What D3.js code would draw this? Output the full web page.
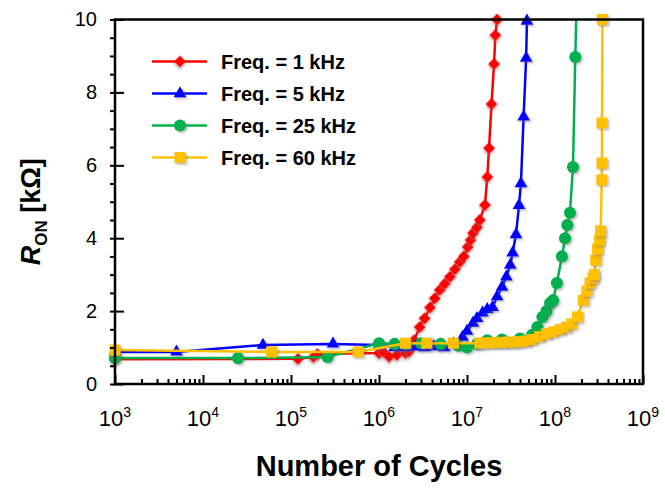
<!DOCTYPE html>
<html>
<head>
<meta charset="utf-8">
<script src="https://cdn.jsdelivr.net/npm/d3@7"></script>
<style>
  body { margin: 0; background: #fff; }
  text { font-family: "Liberation Sans", Arial, sans-serif; }
</style>
</head>
<body>
<div id="chart"></div>
<script>
// values
const cycles1k = [1e3, 1.2e5, 1.8e5, 2e5, 1e6, 1.1e6, 1.3e6, 1.6e6, 2e6, 2.2e6, 2.5e6, 2.9e6, 3.3e6, 3.8e6, 4.3e6, 4.9e6, 5.6e6, 6.4e6, 7.3e6, 8.3e6, 9.2e6, 1.02e7, 1.1e7, 1.17e7, 1.3e7, 1.4e7, 1.6e7, 1.7e7, 1.78e7, 1.9e7, 2.03e7, 2.1e7, 2.2e7];
const ron1k    = [0.68, 0.69, 0.74, 0.82, 0.85, 0.9, 0.75, 0.8, 0.85, 0.9, 1.2, 1.56, 1.8, 2.1, 2.35, 2.58, 2.75, 2.94, 3.15, 3.35, 3.5, 3.76, 3.95, 4.14, 4.3, 4.5, 4.91, 5.68, 6.47, 7.68, 8.78, 9.57, 10];

const cycles5k = [1e3, 5e3, 4.8e4, 3e5, 1e6, 1.5e6, 2e6, 2.6e6, 3.3e6, 4.2e6, 5.5e6, 7e6, 8.9e6, 1e7, 1.17e7, 1.3e7, 1.5e7, 1.7e7, 1.95e7, 2.2e7, 2.5e7, 2.8e7, 3.1e7, 3.3e7, 3.6e7, 3.9e7, 4.1e7, 4.4e7, 4.7e7, 4.8e7];
const ron5k    = [0.88, 0.88, 1.07, 1.1, 1.07, 1.0, 1.0, 1.02, 1.0, 1.03, 1.0, 1.1, 1.29, 1.45, 1.67, 1.8, 1.95, 2.05, 2.1, 2.4, 2.66, 2.94, 3.26, 3.6, 4.1, 4.9, 5.5, 7.33, 8.94, 9.96];

const cycles25k = [1e3, 2.5e4, 2.6e5, 1e6, 1.5e6, 2e6, 3e6, 5e6, 8e6, 1e7, 1.3e7, 1.7e7, 2.5e7, 4e7, 5.5e7, 6.3e7, 7.2e7, 8e7, 8.8e7, 9.5e7, 1.05e8, 1.2e8, 1.3e8, 1.38e8, 1.48e8, 1.6e8, 1.7e8, 1.78e8, 1.8e8];
const ron25k    = [0.71, 0.71, 0.74, 1.12, 1.1, 1.1, 1.12, 1.1, 1.05, 1.0, 1.1, 1.2, 1.22, 1.25, 1.35, 1.56, 1.84, 2.0, 2.22, 2.3, 2.77, 3.5, 4.0, 4.36, 4.7, 5.95, 8.97, 11];

const cycles60k = [1e3, 6e4, 5.8e5, 2e6, 3.5e6, 7e6, 1.4e7, 1.6e7, 1.9e7, 2.2e7, 2.6e7, 3e7, 3.5e7, 4e7, 4.7e7, 5.5e7, 6.7e7, 8e7, 9.5e7, 1.15e8, 1.35e8, 1.55e8, 1.8e8, 2.1e8, 2.3e8, 2.5e8, 2.7e8, 2.8e8, 2.9e8, 3.05e8, 3.2e8, 3.3e8, 3.4e8, 3.42e8, 3.42e8, 3.45e8, 3.5e8];
const ron60k    = [0.93, 0.88, 0.88, 1.12, 1.12, 1.12, 1.12, 1.13, 1.13, 1.14, 1.14, 1.15, 1.15, 1.16, 1.18, 1.22, 1.3, 1.38, 1.43, 1.5, 1.56, 1.65, 1.84, 2.3, 2.55, 2.77, 2.9, 3.0, 3.4, 3.7, 3.95, 4.2, 5.6, 6.06, 7.16, 10];

const legendLabels = ["Freq. = 1 kHz", "Freq. = 5 kHz", "Freq. = 25 kHz", "Freq. = 60 kHz"];
const xTickPowers = [3, 4, 5, 6, 7, 8, 9];
const yTickValues = [0, 2, 4, 6, 8, 10];

const W = 665, H = 489;
const margin = {left: 115, right: 22, top: 19.5, bottom: 105};
const pw = W - margin.left - margin.right;
const ph = H - margin.top - margin.bottom;

const svg = d3.select("#chart").append("svg")
    .attr("width", W)
    .attr("height", H);

const defs = svg.append("defs");
const shadow = defs.append("filter").attr("id", "shadow")
    .attr("x", "-50%").attr("y", "-50%").attr("width", "200%").attr("height", "200%");
shadow.append("feDropShadow")
    .attr("dx", 1.5).attr("dy", 1.5).attr("stdDeviation", 1)
    .attr("flood-color", "#666").attr("flood-opacity", 0.5);
defs.append("clipPath").attr("id", "plotclip")
    .append("rect").attr("width", pw).attr("height", ph);

const g = svg.append("g").attr("transform", `translate(${margin.left},${margin.top})`);

const x = d3.scaleLog().domain([1e3, 1e9]).range([0, pw]);
const y = d3.scaleLinear().domain([0, 10]).range([ph, 0]);

// symbols
const diamond = d3.symbol().type(d3.symbolSquare).size(72);
const triangle = d3.symbol().type(d3.symbolTriangle).size(70);
const circle = d3.symbol().type(d3.symbolCircle).size(115);
const square = d3.symbol().type(d3.symbolSquare).size(121);

const series = [
    {cycles: cycles1k, ron: ron1k, color: "#ff0000", sym: diamond, rot: 45},
    {cycles: cycles5k, ron: ron5k, color: "#0000ff", sym: triangle, rot: 0},
    {cycles: cycles25k, ron: ron25k, color: "#00b050", sym: circle, rot: 0},
    {cycles: cycles60k, ron: ron60k, color: "#ffc000", sym: square, rot: 0}
];

const line = d3.line().x(d => x(d[0])).y(d => y(d[1]));

series.forEach(s => {
    const pts = s.cycles.map((c, i) => [c, s.ron[i]]);
    const sg = g.append("g");
    sg.append("path")
        .datum(pts)
        .attr("clip-path", "url(#plotclip)")
        .attr("fill", "none")
        .attr("stroke", s.color)
        .attr("stroke-width", 2.5)
        .attr("d", line);
    sg.selectAll("path.mk")
        .data(pts.filter(p => p[1] <= 10))
        .enter().append("path")
        .attr("class", "mk")
        .attr("d", s.sym())
        .attr("fill", s.color)
        .attr("filter", "url(#shadow)")
        .attr("transform", p => `translate(${x(p[0])},${y(p[1])}) rotate(${s.rot})`);
});

// frame
g.append("rect")
    .attr("width", pw).attr("height", ph)
    .attr("fill", "none").attr("stroke", "#000").attr("stroke-width", 2.5);

// x axis: decades + minor ticks pointing inward
const minorX = [];
for (let p = 3; p < 9; p++) for (let k = 2; k <= 9; k++) minorX.push(k * Math.pow(10, p));

const xMinor = g.append("g").attr("transform", `translate(0,${ph})`)
    .call(d3.axisBottom(x).tickValues(minorX).tickSize(-5).tickFormat(""));
const xMajor = g.append("g").attr("transform", `translate(0,${ph})`)
    .call(d3.axisBottom(x).tickValues(xTickPowers.map(p => Math.pow(10, p))).tickSize(-9).tickFormat(""));
[xMinor, xMajor].forEach(a => {
    a.select(".domain").remove();
    a.selectAll("line").attr("stroke", "#000").attr("stroke-width", 2);
});

const xLab = g.append("g").selectAll("text")
    .data(xTickPowers)
    .enter().append("text")
    .attr("x", p => x(Math.pow(10, p)))
    .attr("y", ph + 42)
    .attr("text-anchor", "middle")
    .attr("font-size", 22)
    .attr("fill", "#000");
xLab.append("tspan").text("10");
xLab.append("tspan").attr("font-size", 14).attr("dy", -9).text(p => p);

// y axis
const minorY = d3.range(0.5, 10, 0.5).filter(v => v % 2 !== 0);
const yMinor = g.append("g")
    .call(d3.axisLeft(y).tickValues(minorY).tickSize(5).tickFormat(""));
const yMajor = g.append("g")
    .call(d3.axisLeft(y).tickValues(yTickValues).tickSize(5).tickPadding(13));
[yMinor, yMajor].forEach(a => {
    a.select(".domain").remove();
    a.selectAll("line").attr("stroke", "#000").attr("stroke-width", 2);
});
yMajor.selectAll("line").attr("x1", 9);
yMajor.selectAll("text")
    .attr("font-size", 20)
    .attr("font-family", "'Liberation Sans', Arial, sans-serif")
    .attr("fill", "#000");

// axis titles
svg.append("text")
    .attr("x", margin.left + pw / 2)
    .attr("y", 476)
    .attr("text-anchor", "middle")
    .attr("font-size", 29)
    .attr("font-weight", "bold")
    .text("Number of Cycles");

const yt = svg.append("text")
    .attr("transform", `translate(40,${margin.top + ph / 2 + 10}) rotate(-90)`)
    .attr("text-anchor", "middle")
    .attr("font-size", 27)
    .attr("font-weight", "bold");
yt.append("tspan").attr("font-style", "italic").text("R");
yt.append("tspan").attr("font-size", 17).attr("dy", 7).text("ON");
yt.append("tspan").attr("dy", -7).text(" [kΩ]");

// legend
const leg = g.append("g").attr("transform", "translate(37,42)");
const legRows = leg.selectAll("g")
    .data(series)
    .enter().append("g")
    .attr("transform", (d, i) => `translate(0,${i * 32})`);
legRows.append("line")
    .attr("x1", 0).attr("x2", 55)
    .attr("stroke", d => d.color).attr("stroke-width", 2.5);
legRows.append("path")
    .attr("d", d => d.sym())
    .attr("fill", d => d.color)
    .attr("filter", "url(#shadow)")
    .attr("transform", d => `translate(28,0) rotate(${d.rot})`);
legRows.append("text")
    .attr("x", 69)
    .attr("y", 7)
    .attr("font-size", 20)
    .attr("font-weight", "bold")
    .text((d, i) => legendLabels[i]);
</script>
</body>
</html>
